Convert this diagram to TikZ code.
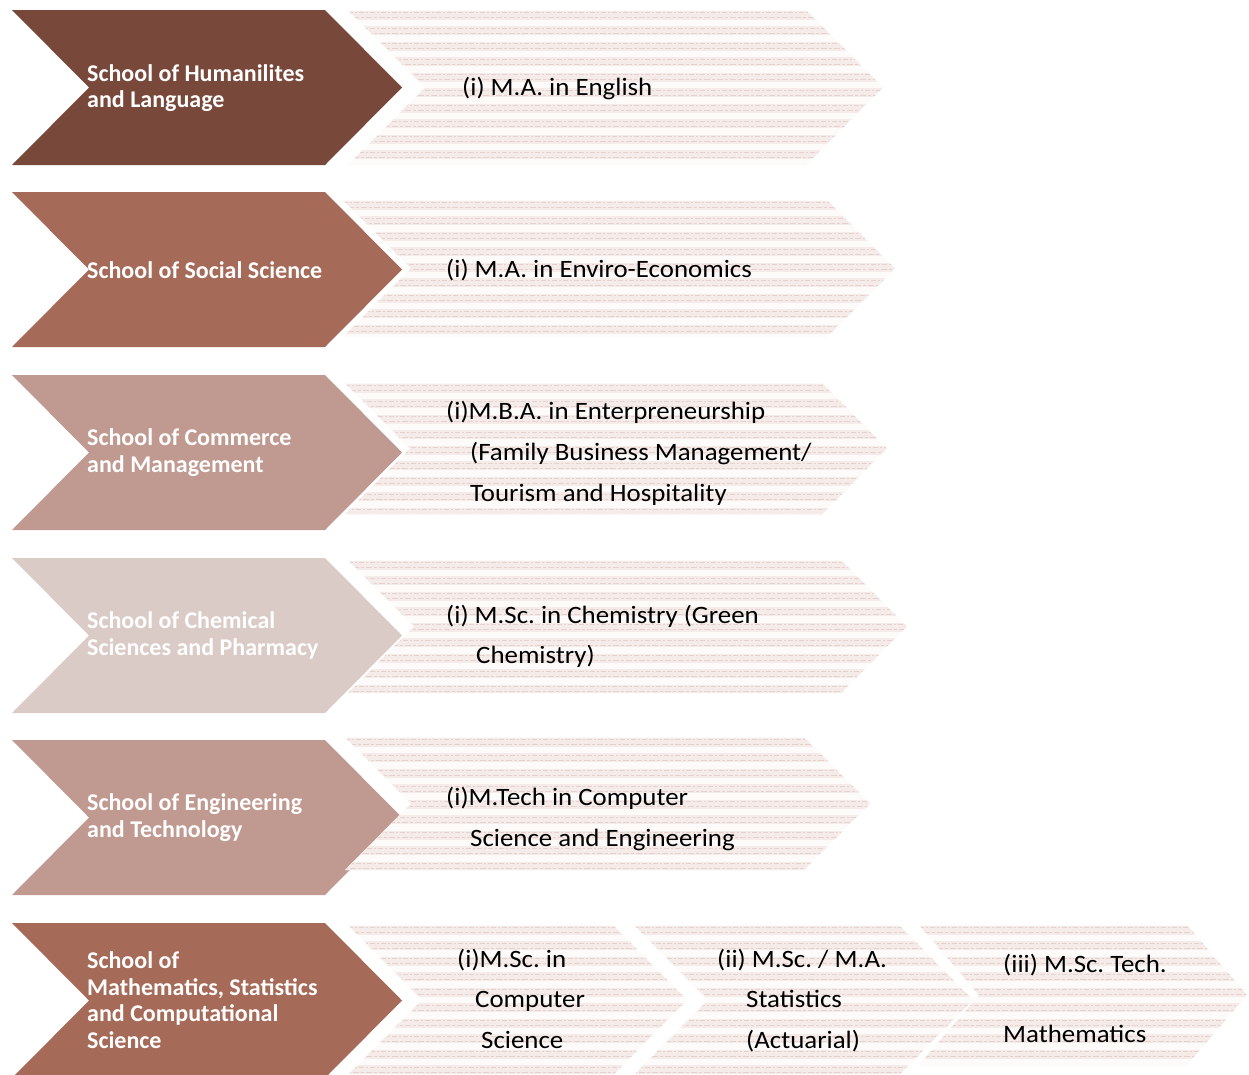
\documentclass[tikz,border=0pt]{standalone}
\usepackage{fontspec}
\setmainfont{Carlito}
\newfontfamily\progfont[FakeStretch=1.075]{Carlito}
\frenchspacing
\definecolor{c1}{HTML}{78493A}
\definecolor{c2}{HTML}{A66A58}
\definecolor{c3}{HTML}{C09A90}
\definecolor{c4}{HTML}{DACBC6}
\definecolor{texbg}{HTML}{FDFAFA}
\definecolor{texband}{HTML}{F5EBE9}
\definecolor{texdash}{HTML}{E5D1CE}
% style, left x, tip x, top y, height, depth
\newcommand\chev[6]{%
  \path[#1] (#2,#4) -- ({#3-#6},#4) -- (#3,{#4+#5/2}) -- ({#3-#6},{#4+#5})
    -- (#2,{#4+#5}) -- ({#2+#6},{#4+#5/2}) -- cycle;}
\begin{document}
\begin{tikzpicture}[x=1pt,y=-1pt,
  tex/.style={fill=texbg, path picture={
    \foreach \k in {0,...,10} {
      \draw[texband, line width=9pt]
        ([yshift={-(5+15.5*\k)*1pt}]path picture bounding box.north west) --
        ([yshift={-(5+15.5*\k)*1pt}]path picture bounding box.north east);
      \draw[texdash, line width=1pt, dash pattern=on 5pt off 2pt on 2pt off 2pt]
        ([yshift={-(2.5+15.5*\k)*1pt}]path picture bounding box.north west) --
        ([yshift={-(2.5+15.5*\k)*1pt}]path picture bounding box.north east);
      \draw[texdash, line width=1pt, dash pattern=on 3pt off 2pt on 6pt off 2pt]
        ([yshift={-(7.5+15.5*\k)*1pt}]path picture bounding box.north west) --
        ([yshift={-(7.5+15.5*\k)*1pt}]path picture bounding box.north east);
    }}},
  lab/.style={text=white, font=\bfseries\fontsize{24}{26.5}\selectfont,
    align=left, anchor=west, inner sep=0pt},
  prog/.style={text=black, font=\progfont\fontsize{25}{30}\selectfont,
    anchor=base west, inner sep=0pt}]
\useasboundingbox (0,0) rectangle (1249,1074);
\clip (0,0) rectangle (1249,1074);
% school chevrons
\chev{fill=c1}{12}{402}{10}{155}{77}
\chev{fill=c2}{12}{402}{192}{155}{77}
\chev{fill=c3}{12}{402}{375}{155}{77}
\chev{fill=c4}{12}{402}{558}{155}{77}
\chev{fill=c3}{12}{402}{740}{155}{77}
\chev{fill=c2}{12}{402}{923}{155}{77}
% programme chevrons
\chev{tex}{348}{883}{10}{155}{77}
\chev{tex}{343}{895}{200}{137}{68}
\chev{tex}{345}{887}{383}{131}{65}
\chev{tex}{348}{907}{560}{133}{66}
\chev{tex}{345}{870}{737}{133}{66}
\chev{tex}{348}{687}{925}{150}{74}
\chev{tex}{634}{973}{925}{150}{74}
\chev{tex}{919}{1247}{925}{140}{60}
% school labels
\node[lab] (s1) at (87,88) {School of Humanilites\\and Language};
\node[lab] (s2) at (87,270) {School of Social Science};
\node[lab] (s3) at (87,452.5) {School of Commerce\\and Management};
\node[lab] (s4) at (87,635.5) {School of Chemical\\Sciences and Pharmacy};
\node[lab] (s5) at (87,817.5) {School of Engineering\\and Technology};
\node[lab] (s6) at (87,1000) {School of\\Mathematics, Statistics\\and Computational\\Science};
% programmes
\node[prog] (p1) at (462,95) {(i) M.A. in English};
\node[prog] (p2) at (446,277) {(i) M.A. in Enviro-Economics};
\node[prog] (p3a) at (446,419) {(i)M.B.A. in Enterpreneurship};
\node[prog] (p3b) at (470,460) {(Family Business Management/};
\node[prog] (p3c) at (470,501) {Tourism and Hospitality};
\node[prog] (p4a) at (446,623) {(i) M.Sc. in Chemistry (Green};
\node[prog] (p4b) at (476,663) {Chemistry)};
\node[prog] (p5a) at (446,805) {(i)M.Tech in Computer};
\node[prog] (p5b) at (470,846) {Science and Engineering};
\node[prog] (p6a) at (457,967) {(i)M.Sc. in};
\node[prog] (p6b) at (475,1007) {Computer};
\node[prog] (p6c) at (481,1048) {Science};
\node[prog] (p7a) at (717,967) {(ii) M.Sc. / M.A.};
\node[prog] (p7b) at (746,1007) {Statistics};
\node[prog] (p7c) at (746,1048) {(Actuarial)};
\node[prog] (p8a) at (1003,972) {(iii) M.Sc. Tech.};
\node[prog] (p8b) at (1003,1042) {Mathematics};
\end{tikzpicture}
\end{document}
